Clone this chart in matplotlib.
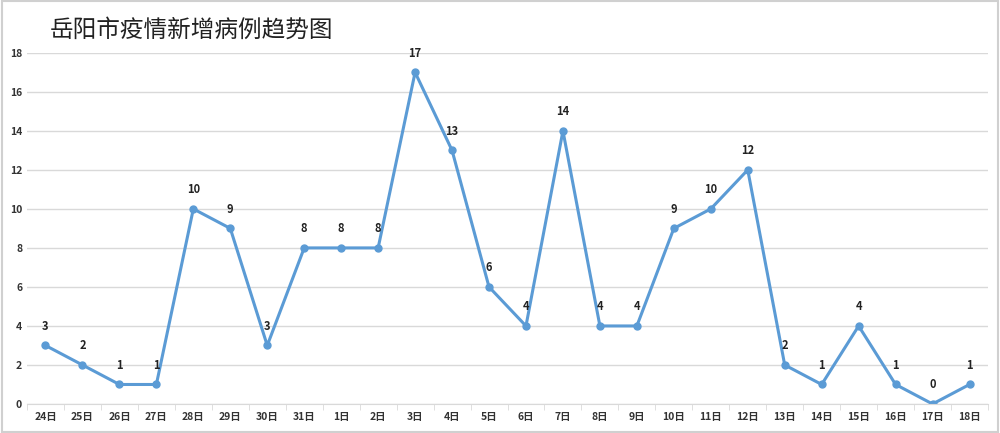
import matplotlib
matplotlib.use("Agg")
import matplotlib.pyplot as plt
from matplotlib.ticker import FixedLocator

plt.rcParams['font.family'] = ['Noto Sans CJK SC', 'DejaVu Sans']

dates = ["24日","25日","26日","27日","28日","29日","30日","31日","1日","2日","3日","4日","5日","6日","7日","8日","9日","10日","11日","12日","13日","14日","15日","16日","17日","18日"]
cases = [3,2,1,1,10,9,3,8,8,8,17,13,6,4,14,4,4,9,10,12,2,1,4,1,0,1]
yticks = [0,2,4,6,8,10,12,14,16,18]

fig = plt.figure(figsize=(10, 4.33), dpi=100)
ax = fig.add_axes([0.027, 0.067, 0.961, 0.811])
x = list(range(len(dates)))
ax.plot(x, cases, color='#5b9bd5', lw=2.2, marker='o', ms=5)
for xi, v in zip(x, cases):
    ax.annotate(str(v), (xi, v), xytext=(0, 9), textcoords='offset points',
                ha='center', va='bottom', fontsize=8, fontweight='bold', color='#222222')
ax.set_xlim(-0.5, len(dates) - 0.5)
ax.set_ylim(0, 18)
ax.set_yticks(yticks)
ax.set_xticks(x)
ax.xaxis.set_minor_locator(FixedLocator([i - 0.5 for i in range(len(dates) + 1)]))
ax.set_xticklabels(dates, fontsize=7.5, fontweight='bold', color='#333333')
ax.tick_params(axis='y', labelsize=7.5, length=0, labelcolor='#333333')
ax.tick_params(axis='x', which='major', length=0, pad=6)
ax.tick_params(axis='x', which='minor', length=4, color='#d9d9d9')
for lab in ax.get_yticklabels():
    lab.set_fontweight('bold')
ax.grid(axis='y', color='#d9d9d9', lw=1)
ax.set_axisbelow(True)
for s in ['top', 'right', 'left']:
    ax.spines[s].set_visible(False)
ax.spines['bottom'].set_color('#d9d9d9')
fig.text(0.05, 0.93, "岳阳市疫情新增病例趋势图", fontsize=17, va='center', color='#222222')
fig.patches.append(plt.Rectangle((0.002, 0.003), 0.996, 0.994, transform=fig.transFigure,
                                 fill=False, ec='#d0d0d0', lw=1.5))
fig.savefig("out.png", dpi=100)
